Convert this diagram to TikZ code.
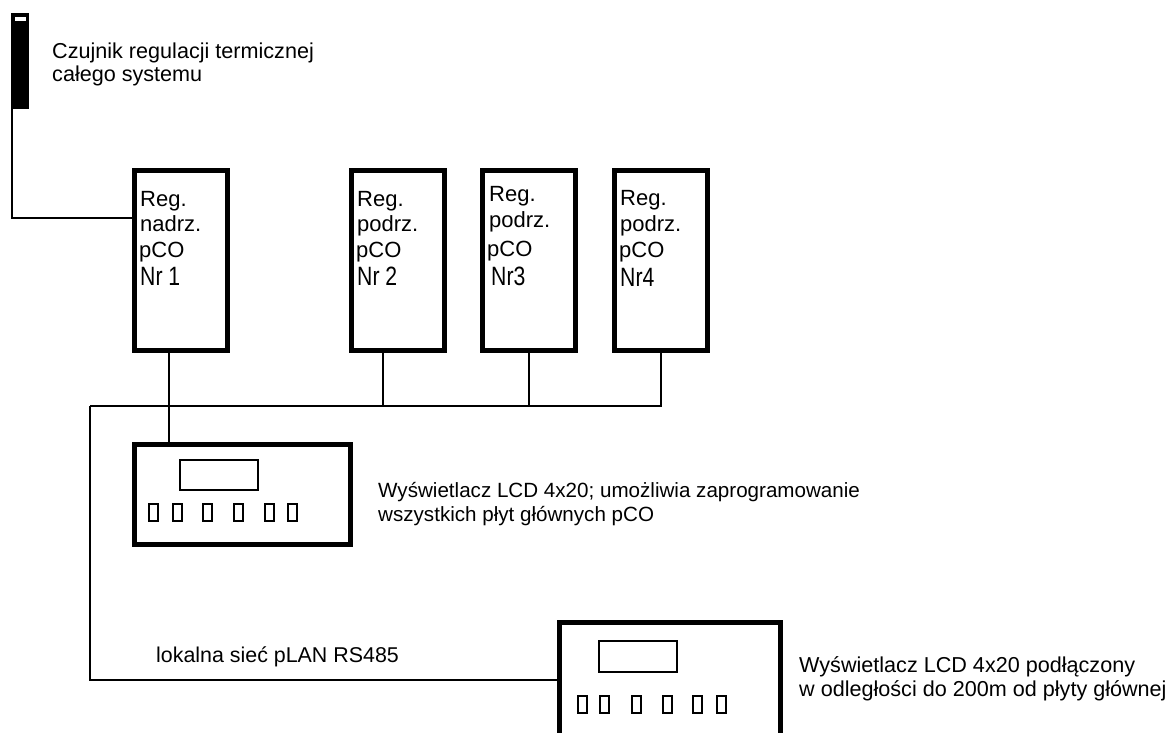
\documentclass[tikz,border=0pt]{standalone}
\usepackage{fontspec}
\setmainfont{Liberation Sans}
\newfontfamily\narrowfont[FakeStretch=0.8]{Liberation Sans}
\begin{document}
\begin{tikzpicture}[x=1pt,y=-1pt,
  regbox/.style={draw,line width=5pt,minimum width=93pt,minimum height=180pt,inner sep=0pt},
  lcdbox/.style={draw,line width=5pt,inner sep=0pt},
  dispbox/.style={draw,line width=2pt,inner sep=0pt},
  keybox/.style={draw,line width=2pt,minimum width=9pt,minimum height=17pt,inner sep=0pt},
  wire/.style={line width=2pt},
  lbl/.style={font=\fontsize{21.6}{24}\selectfont,anchor=base west,inner sep=0pt},
  reglbl/.style={font=\fontsize{22}{24}\selectfont,anchor=base west,inner sep=0pt},
  nrlbl/.style={font=\narrowfont\fontsize{26.5}{28}\selectfont,anchor=base west,inner sep=0pt}]
\useasboundingbox (0,0) rectangle (1171,733);
\clip (0,0) rectangle (1171,733);
\fill[white] (0,0) rectangle (1171,733);

% sensor
\node[fill=black,minimum width=18pt,minimum height=96pt,inner sep=0pt] (sensor) at (20,61) {};
\node[fill=white,draw=black,line width=0.6pt,minimum width=12pt,minimum height=5pt,inner sep=0pt] (slot) at (20,18.5) {};
\node[lbl] (s1) at (52,59) {Czujnik regulacji termicznej};
\node[lbl] (s2) at (52,82) {całego systemu};

% controllers
\node[regbox] (r1) at (181,260.5) {};
\node[regbox] (r2) at (397.5,260.5) {};
\node[regbox] (r3) at (529,260.5) {};
\node[regbox] (r4) at (660.5,260.5) {};

\node[reglbl] (r1a) at (140,207) {Reg.};
\node[reglbl] (r1b) at (140,232) {nadrz.};
\node[reglbl] (r1c) at (139,257) {pCO};
\node[nrlbl] (r1d) at (140,285) {Nr 1};

\node[reglbl] (r2a) at (357,207) {Reg.};
\node[reglbl] (r2b) at (357,232) {podrz.};
\node[reglbl] (r2c) at (356,258) {pCO};
\node[nrlbl] (r2d) at (357,285) {Nr 2};

\node[reglbl] (r3a) at (489,201) {Reg.};
\node[reglbl] (r3b) at (489,227) {podrz.};
\node[reglbl] (r3c) at (487,256) {pCO};
\node[nrlbl] (r3d) at (491,285) {Nr3};

\node[reglbl] (r4a) at (620,205) {Reg.};
\node[reglbl] (r4b) at (620,231) {podrz.};
\node[reglbl] (r4c) at (619,257) {pCO};
\node[nrlbl] (r4d) at (620,286) {Nr4};

% LCD 1
\node[lcdbox,minimum width=216pt,minimum height=100pt] (lcd1) at (242.5,494.5) {};
\node[dispbox,minimum width=78pt,minimum height=30pt] (d1) at (219,475) {};
\node[keybox] (k11) at (153.5,512.5) {};
\node[keybox] (k12) at (177,512.5) {};
\node[keybox] (k13) at (207.5,512.5) {};
\node[keybox] (k14) at (238.5,512.5) {};
\node[keybox] (k15) at (269.5,512.5) {};
\node[keybox] (k16) at (292.5,512.5) {};
\node[lbl,font=\fontsize{20.6}{24}\selectfont] (l1a) at (378,497) {Wyświetlacz LCD 4x20; umożliwia zaprogramowanie};
\node[lbl,font=\fontsize{20.6}{24}\selectfont] (l1b) at (378,521) {wszystkich płyt głównych pCO};

% LCD 2
\node[lcdbox,minimum width=221pt,minimum height=115pt] (lcd2) at (670,680) {};
\node[dispbox,minimum width=78pt,minimum height=31pt] (d2) at (638,656.5) {};
\node[keybox] (k21) at (582,704) {};
\node[keybox] (k22) at (604,704) {};
\node[keybox] (k23) at (636,704) {};
\node[keybox] (k24) at (667,704) {};
\node[keybox] (k25) at (697.5,704) {};
\node[keybox] (k26) at (721,704) {};
\node[lbl] (l2a) at (799,672) {Wyświetlacz LCD 4x20 podłączony};
\node[lbl] (l2b) at (799,696) {w odległości do 200m od płyty głównej};

\node[lbl,font=\fontsize{21.4}{24}\selectfont] (net) at (156,662) {lokalna sieć pLAN RS485};

% wiring
\coordinate (busL) at (90,406);
\draw[wire] ([xshift=1.5pt]sensor.south west) |- ([yshift=42.5pt]r1.west);
\draw[wire] (r4.south) |- (busL);
\draw[wire] ([xshift=-14.5pt]r2.south) -- ([xshift=-14.5pt]r2.south |- busL);
\draw[wire] (r3.south) -- (r3.south |- busL);
\draw[wire] ([xshift=-12pt]r1.south) -- ([xshift=-12pt]r1.south |- lcd1.north);
\draw[wire] (busL) |- (lcd2.west);
\end{tikzpicture}
\end{document}
